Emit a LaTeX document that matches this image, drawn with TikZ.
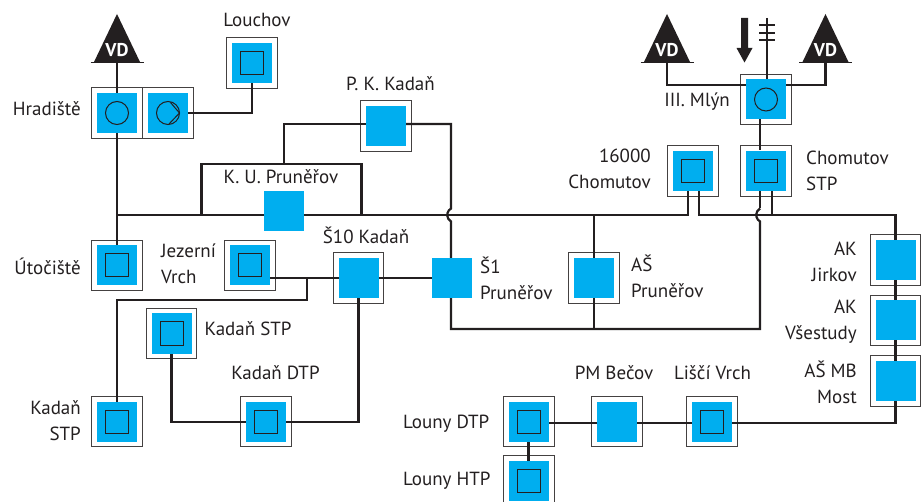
\documentclass[tikz,border=0pt]{standalone}
\usepackage{fontspec}
\setmainfont{PT Sans}
\usetikzlibrary{calc}
\definecolor{ink}{HTML}{231F20}
\definecolor{sky}{HTML}{00AEEF}
\pgfdeclarelayer{outer}\pgfdeclarelayer{lines}
\pgfsetlayers{outer,lines,main}
\tikzset{
  x=1pt,y=-1pt,
  outerbox/.style={draw=ink!85,line width=0.9pt,fill=white,minimum size=50.5pt,inner sep=0pt,outer sep=0pt},
  bluebox/.style={fill=sky,minimum size=40pt,inner sep=0pt,outer sep=0pt},
  insq/.style={draw=ink,line width=1pt,minimum size=23pt,inner sep=0pt},
  incirc/.style={draw=ink,line width=1pt,circle,minimum size=23pt,inner sep=0pt},
  wire/.style={draw=ink,line width=2.2pt,line join=miter},
  lab/.style={font=\fontsize{19}{26}\selectfont,text=ink,inner sep=0pt},
  labl/.style={lab,anchor=west,align=left},
  labr/.style={lab,anchor=east,align=right},
  tri/.style={fill=ink,draw=none},
  vdt/.style={font=\fontsize{18.5}{19}\selectfont\bfseries,text=white,inner sep=0pt},
}
\newcommand{\stn}[3]{%
  \node[bluebox] (#1) at (#2,#3) {};
  \begin{pgfonlayer}{outer}\node[outerbox] (#1o) at (#2,#3) {};\end{pgfonlayer}}
\newcommand{\vdmark}[3]{%
  \coordinate (#1) at (#2,#3);
  \fill[tri] (#2,14) -- (#2+23,62) -- (#2-23,62) -- cycle;
  \draw[ink,line width=0.8pt] (#2-26.5,62) -- (#2+26.5,62);
  \node[vdt] at (#2,50.5) {VD};}
\begin{document}
\begin{tikzpicture}
\useasboundingbox (0,0) rectangle (923,502);
% stations
\stn{hrad}{117}{113}
\stn{pump}{168}{113}
\stn{louch}{252}{63}
\stn{pk}{386}{126}
\node[bluebox] (ku) at (284,211) {};
\stn{uto}{117}{265.5}
\stn{jez}{250}{265.5}
\stn{sten}{358.5}{278}
\node[bluebox] (sone) at (452,278) {};
\stn{asp}{594}{278}
\stn{kstpu}{171.5}{333.5}
\stn{kstpl}{117}{421.5}
\stn{kdtp}{266}{421.5}
\stn{ldtp}{529}{421.5}
\stn{lhtp}{529}{480.5}
\stn{pm}{617}{421.5}
\stn{lis}{712}{421.5}
\stn{akj}{895.5}{260}
\stn{akv}{895.5}{320.5}
\stn{asm}{895.5}{381}
\stn{mlyn}{766}{99.5}
\stn{cstp}{766}{171}
\stn{six}{693}{171}
% glyphs
\node[incirc] at (hrad) {};
\node[incirc] (pc) at (pump) {};
\draw[ink,line width=1pt] (170.5,102.5) -- (179.5,113) -- (169,124);
\foreach \n in {louch,uto,jez,kstpu,kstpl,kdtp,ldtp,lhtp,lis,cstp,six}
  \node[insq] at (\n) {};
\node[incirc] at (mlyn) {};
% VD triangles
\vdmark{vda}{117}{62}
\vdmark{vdb}{667}{62}
\vdmark{vdc}{825.5}{62}
% arrow and antenna
\coordinate (anttop) at (767,18);
\fill[ink] (741,18) -- (748,18) -- (748,48) -- (752.5,48) -- (744.5,62.5) -- (736.5,48) -- (741,48) -- cycle;
\begin{pgfonlayer}{lines}
\draw[wire,line width=1.7pt] (anttop) -- (mlyn.north -| anttop);
\foreach \yy in {25,33,40} \draw[ink,line width=1.7pt] (759,\yy) -- (775,\yy);
% connectors
\draw[wire] (vda) -- (hrad.north);
\draw[wire] (hrad.south) -- (uto.north);
\draw[wire] (pump.east) -- (louch.south |- pump.east) -- (louch.south);
\draw[wire] (117,215) -- (ku.west |- 0,215);
\draw[wire] (ku.east |- 0,215) -- (688,215) -- (688,191);
\draw[wire] (201.5,215) -- (201.5,164) -- (361.5,164) -- (361.5,215);
\draw[wire] (284,164) -- (284,124) -- (pk.west |- 0,124);
\draw[wire] (pk.east |- 0,124) -- (451,124) -- (451,208.5) arc[start angle=60,end angle=-60,radius=-7.5] -- (sone.north -| 451,0);
\draw[wire] (451,298) -- (451,329) -- (760,329) -- (760,221.5) arc[start angle=-60,end angle=60,radius=-7.5];
\draw[wire] (760,208.5) -- (760,191);
\draw[wire] (760,150) -- (760,119);
\draw[wire] (699,191) -- (699,215) -- (895.5,215) -- (akj.north);
\draw[wire] (772,191) -- (772,215);
\draw[wire] (594,215) -- (asp.north);
\draw[wire] (asp.south) -- (594,329);
\draw[wire] (akj.south) -- (akv.north);
\draw[wire] (akv.south) -- (asm.north);
\draw[wire] (asm.south) -- (895.5,423) -- (lis.east |- 0,423);
\draw[wire] (lis.west |- 0,423) -- (pm.east |- 0,423);
\draw[wire] (pm.west |- 0,423) -- (ldtp.east |- 0,423);
\draw[wire] (ldtp.south -| 528.5,0) -- (lhtp.north -| 528.5,0);
\draw[wire] (vdb) -- (667,85) -- (mlyn.west |- 0,85);
\draw[wire] (vdc) -- (825.5,85) -- (mlyn.east |- 0,85);
\draw[wire] (jez.east |- 0,278) -- (sten.west);
\draw[wire] (307,278) -- (307,300) -- (117,300) -- (kstpl.north);
\draw[wire] (sten.east) -- (sone.west);
\draw[wire] (sten.south) -- (358.5,422) -- (kdtp.east |- 0,422);
\draw[wire] (kdtp.west |- 0,422) -- (171.5,422) -- (kstpu.south);
\end{pgfonlayer}
% labels
\node[lab] (t1) at (257,20) {Louchov};
\node[lab] (t2) at (390.5,84) {P. K. Kadaň};
\node[labr] (t3) at (81,109) {Hradiště};
\node[lab] (t4) at (281,177) {K. U. Pruněřov};
\node[lab] (t5) at (366,235) {Š10 Kadaň};
\node[labr] (t6) at (81,266) {Útočiště};
\node[labl] (t7) at (161,264) {Jezerní\\Vrch};
\node[labl] (t8) at (204.5,329) {Kadaň STP};
\node[lab] (t9) at (275.5,373) {Kadaň DTP};
\node[labr] (t10) at (81,421) {Kadaň\\STP};
\node[labl] (t11) at (480,278) {Š1\\Pruněřov};
\node[labl] (t12) at (631,276) {AŠ\\Pruněřov};
\node[labr] (t13) at (730,102) {III. Mlýn};
\node[labr] (t14) at (651,169) {16000\\Chomutov};
\node[labl] (t15) at (806,171) {Chomutov\\STP};
\node[labr] (t16) at (857,262) {AK\\Jirkov};
\node[labr] (t17) at (857,322) {AK\\Všestudy};
\node[labr] (t18) at (857,382) {AŠ MB\\Most};
\node[lab] (t19) at (614,373) {PM Bečov};
\node[lab] (t20) at (712.5,373) {Liščí Vrch};
\node[labl] (t21) at (403,424) {Louny DTP};
\node[labl] (t22) at (403,481) {Louny HTP};
\end{tikzpicture}
\end{document}
